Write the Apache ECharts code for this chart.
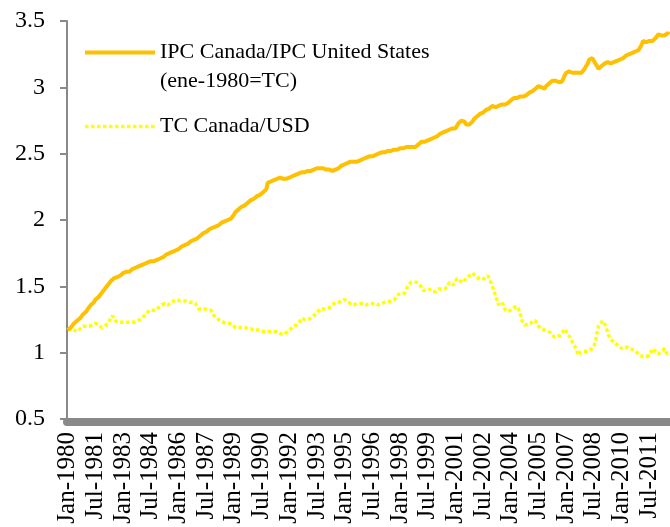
<!DOCTYPE html>
<html><head><meta charset="utf-8">
<script src="https://cdn.jsdelivr.net/npm/echarts@6/dist/echarts.min.js"></script>
<style>html,body{margin:0;padding:0;background:#fff}#c{width:670px;height:527px}</style>
</head><body><div id="c"></div>
<script>
const monthNames = ['Jan','Feb','Mar','Apr','May','Jun','Jul','Aug','Sep','Oct','Nov','Dec'];
const startYear = 1980;
const nMonths = 392;
const categories = [];
for (let i = 0; i < nMonths; i++) categories.push(monthNames[i % 12] + '-' + (startYear + Math.floor(i / 12)));

const seriesNames = ['IPC Canada/IPC United States\n(ene-1980=TC)', 'TC Canada/USD'];

const ipcRatio = [
1.17,1.18,1.19,1.20,1.22,1.23,1.24,1.25,1.26,1.27,1.29,1.30,
1.31,1.33,1.34,1.36,1.37,1.38,1.40,1.41,1.42,1.43,1.45,1.46,
1.48,1.49,1.51,1.52,1.54,1.55,1.56,1.57,1.57,1.58,1.58,1.59,
1.60,1.60,1.61,1.61,1.61,1.62,1.63,1.63,1.64,1.64,1.65,1.65,
1.66,1.66,1.67,1.67,1.68,1.68,1.69,1.69,1.69,1.70,1.70,1.71,
1.71,1.72,1.72,1.73,1.74,1.74,1.75,1.76,1.76,1.77,1.77,1.78,
1.78,1.79,1.80,1.80,1.81,1.82,1.82,1.83,1.84,1.84,1.85,1.86,
1.86,1.87,1.88,1.89,1.90,1.91,1.91,1.92,1.93,1.93,1.94,1.94,
1.95,1.96,1.96,1.97,1.98,1.98,1.99,1.99,2.00,2.01,2.01,2.02,
2.04,2.06,2.07,2.08,2.09,2.10,2.11,2.11,2.12,2.13,2.14,2.15,
2.15,2.16,2.17,2.18,2.18,2.19,2.20,2.21,2.22,2.23,2.28,2.29,
2.29,2.30,2.30,2.31,2.31,2.31,2.32,2.32,2.31,2.31,2.31,2.32,
2.32,2.33,2.33,2.34,2.34,2.34,2.35,2.35,2.36,2.36,2.36,2.37,
2.37,2.37,2.37,2.38,2.38,2.38,2.39,2.39,2.39,2.40,2.39,2.39,
2.38,2.37,2.38,2.37,2.37,2.38,2.38,2.39,2.39,2.40,2.41,2.42,
2.42,2.43,2.43,2.44,2.44,2.44,2.44,2.44,2.44,2.45,2.45,2.45,
2.46,2.46,2.47,2.47,2.48,2.48,2.48,2.49,2.49,2.50,2.50,2.50,
2.51,2.51,2.51,2.51,2.52,2.51,2.52,2.52,2.53,2.53,2.53,2.54,
2.54,2.54,2.54,2.55,2.55,2.54,2.55,2.55,2.55,2.55,2.55,2.56,
2.57,2.58,2.59,2.59,2.59,2.60,2.60,2.60,2.61,2.61,2.62,2.62,
2.63,2.64,2.65,2.66,2.66,2.66,2.67,2.67,2.68,2.68,2.69,2.69,
2.69,2.71,2.73,2.74,2.75,2.74,2.74,2.72,2.71,2.72,2.73,2.74,
2.76,2.77,2.78,2.79,2.80,2.80,2.81,2.82,2.83,2.83,2.84,2.85,
2.86,2.85,2.85,2.86,2.86,2.86,2.87,2.87,2.87,2.88,2.88,2.89,
2.90,2.91,2.92,2.92,2.92,2.92,2.93,2.93,2.93,2.93,2.94,2.95,
2.96,2.96,2.97,2.98,2.99,3.00,3.01,3.00,3.00,2.99,2.99,3.01,
3.02,3.03,3.04,3.05,3.055,3.05,3.04,3.04,3.035,3.04,3.06,3.09,
3.11,3.12,3.12,3.11,3.11,3.11,3.11,3.11,3.11,3.11,3.11,3.12,
3.14,3.16,3.18,3.21,3.22,3.22,3.20,3.18,3.16,3.14,3.15,3.16,
3.17,3.18,3.19,3.19,3.18,3.18,3.19,3.19,3.19,3.20,3.20,3.21,
3.22,3.22,3.23,3.24,3.24,3.25,3.25,3.26,3.27,3.27,3.28,3.28,
3.29,3.32,3.35,3.34,3.34,3.35,3.35,3.36,3.35,3.36,3.37,3.38,
3.40,3.40,3.39,3.38,3.39,3.40,3.41,3.40
];

const tcCadUsd = [
1.17,1.18,1.18,1.18,1.17,1.16,1.16,1.16,1.18,1.19,1.20,1.20,
1.20,1.20,1.20,1.20,1.21,1.21,1.22,1.22,1.21,1.20,1.19,1.19,
1.20,1.21,1.22,1.24,1.26,1.28,1.26,1.24,1.23,1.23,1.23,1.23,
1.23,1.23,1.23,1.23,1.23,1.23,1.23,1.23,1.24,1.24,1.25,1.25,
1.26,1.27,1.28,1.29,1.30,1.32,1.32,1.32,1.32,1.32,1.33,1.34,
1.35,1.36,1.37,1.37,1.37,1.36,1.36,1.37,1.38,1.39,1.40,1.40,
1.39,1.39,1.39,1.39,1.39,1.39,1.38,1.38,1.38,1.38,1.37,1.37,
1.35,1.33,1.33,1.33,1.33,1.33,1.32,1.32,1.32,1.32,1.30,1.28,
1.27,1.26,1.25,1.24,1.24,1.23,1.23,1.22,1.22,1.22,1.21,1.21,
1.20,1.19,1.19,1.19,1.19,1.19,1.19,1.19,1.19,1.18,1.18,1.18,
1.18,1.17,1.17,1.17,1.17,1.17,1.16,1.16,1.16,1.16,1.16,1.16,
1.16,1.16,1.16,1.16,1.16,1.15,1.15,1.14,1.13,1.14,1.15,1.16,
1.17,1.18,1.19,1.20,1.20,1.21,1.22,1.24,1.26,1.26,1.25,1.25,
1.25,1.25,1.26,1.27,1.28,1.29,1.30,1.31,1.33,1.33,1.33,1.33,
1.33,1.33,1.34,1.35,1.36,1.37,1.38,1.38,1.38,1.38,1.39,1.40,
1.40,1.39,1.38,1.37,1.37,1.36,1.36,1.36,1.37,1.37,1.37,1.37,
1.37,1.36,1.36,1.37,1.37,1.37,1.37,1.37,1.37,1.36,1.36,1.36,
1.37,1.38,1.38,1.38,1.38,1.38,1.39,1.39,1.40,1.41,1.42,1.44,
1.44,1.44,1.44,1.45,1.46,1.50,1.51,1.53,1.53,1.53,1.53,1.53,
1.52,1.51,1.49,1.47,1.47,1.47,1.48,1.48,1.47,1.46,1.46,1.46,
1.47,1.48,1.48,1.48,1.48,1.48,1.48,1.50,1.53,1.52,1.51,1.50,
1.53,1.56,1.55,1.54,1.53,1.53,1.54,1.56,1.57,1.58,1.59,1.60,
1.59,1.58,1.57,1.56,1.55,1.55,1.55,1.56,1.57,1.58,1.56,1.53,
1.50,1.47,1.43,1.40,1.36,1.37,1.38,1.36,1.33,1.32,1.31,1.31,
1.32,1.33,1.34,1.35,1.35,1.33,1.30,1.25,1.23,1.21,1.21,1.21,
1.21,1.22,1.24,1.25,1.24,1.22,1.20,1.19,1.18,1.17,1.17,1.16,
1.16,1.15,1.15,1.14,1.12,1.12,1.12,1.13,1.13,1.14,1.16,1.18,
1.16,1.14,1.13,1.11,1.08,1.06,1.04,1.03,0.98,1.00,1.01,1.01,
1.01,1.01,1.01,1.02,1.02,1.03,1.05,1.08,1.15,1.20,1.22,1.23,
1.24,1.25,1.19,1.15,1.12,1.10,1.09,1.08,1.07,1.06,1.06,1.05,
1.03,1.04,1.04,1.04,1.04,1.03,1.03,1.03,1.02,1.01,1.00,0.99,
0.98,0.98,0.97,0.97,0.97,0.98,0.98,1.00,1.03,1.02,1.01,1.00,
0.99,1.00,1.01,1.02,1.03,1.02,0.98,0.99
];

const yMin = 0.5, yMax = 3.5, yStep = 0.5;
const labelEvery = 18;

const font = 'Liberation Serif';
const orangeLine = {color: '#FFC000', width: 4};
const yellowLine = {color: '#FFFF00', width: 3.5, type: [3.5, 2.5]};
const chart = echarts.init(document.getElementById('c'), null, {renderer: 'canvas'});
chart.setOption({
  animation: false,
  backgroundColor: '#fff',
  grid: {left: 67, right: 0, top: 21, bottom: 108, containLabel: false},
  legend: {
    data: [
      {name: seriesNames[0], lineStyle: orangeLine},
      {name: seriesNames[1], lineStyle: yellowLine}
    ],
    orient: 'vertical',
    left: 83, top: 9,
    padding: 0,
    itemGap: 16,
    itemWidth: 70, itemHeight: 14,
    itemStyle: {opacity: 0},
    formatter: function (name) { return name.indexOf('\n') >= 0 ? ' \n' + name : name; },
    textStyle: {fontFamily: font, fontSize: 22, lineHeight: 29, color: '#000'}
  },
  xAxis: {
    type: 'category',
    data: categories,
    boundaryGap: true,
    offset: 3,
    axisLine: {lineStyle: {color: '#898989', width: 8}},
    axisTick: {show: false},
    axisLabel: {interval: labelEvery - 1, rotate: 90, margin: 10, fontFamily: font, fontSize: 25, color: '#000'},
    splitLine: {show: false}
  },
  yAxis: {
    type: 'value',
    min: yMin, max: yMax, interval: yStep,
    axisLine: {show: true, lineStyle: {color: '#898989', width: 2}},
    axisTick: {show: true, length: 7, lineStyle: {color: '#898989', width: 2}},
    axisLabel: {margin: 22, fontFamily: font, fontSize: 24, color: '#000'},
    splitLine: {show: false}
  },
  series: [
    {
      name: seriesNames[0], type: 'line', data: ipcRatio, z: 3,
      showSymbol: false, symbol: 'none',
      lineStyle: orangeLine, itemStyle: {color: '#FFC000'}
    },
    {
      name: seriesNames[1], type: 'line', data: tcCadUsd, z: 2,
      showSymbol: false, symbol: 'none',
      lineStyle: yellowLine, itemStyle: {color: '#FFFF00'}
    }
  ]
});
</script>
</body></html>
